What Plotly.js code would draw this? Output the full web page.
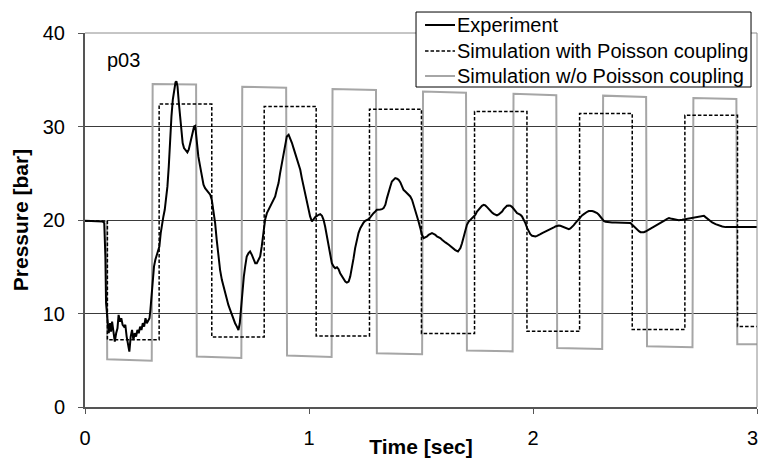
<!DOCTYPE html>
<html>
<head>
<meta charset="utf-8">
<script src="https://cdn.plot.ly/plotly-3.0.1.min.js"></script>
<style>html,body{margin:0;padding:0;background:#fff;}#chart{width:760px;height:458px;}</style>
</head>
<body>
<div id="chart"></div>
<script>
// ---- Experiment (measured pressure, bar) ----
const expT = [0, 0.079, 0.086, 0.091, 0.094, 0.100, 0.106, 0.112, 0.116, 0.121, 0.127, 0.133, 0.139, 0.145, 0.150, 0.156, 0.162, 0.168, 0.174, 0.180, 0.186, 0.192, 0.198, 0.204, 0.210, 0.216, 0.222, 0.228, 0.234, 0.240, 0.246, 0.252, 0.258, 0.264, 0.270, 0.276, 0.282, 0.288, 0.292, 0.296, 0.302, 0.308, 0.314, 0.320, 0.326, 0.332, 0.338, 0.344, 0.350, 0.356, 0.362, 0.368, 0.374, 0.380, 0.386, 0.392, 0.398, 0.404, 0.408, 0.413, 0.419, 0.425, 0.431, 0.436, 0.442, 0.451, 0.457, 0.463, 0.469, 0.475, 0.481, 0.487, 0.492,
  0.499, 0.506, 0.514, 0.521, 0.529, 0.536, 0.548, 0.559, 0.566, 0.573, 0.581, 0.588, 0.596, 0.603, 0.611, 0.618, 0.626, 0.633, 0.640, 0.648, 0.655, 0.663, 0.670, 0.678, 0.685, 0.691, 0.697, 0.703, 0.709, 0.715, 0.722, 0.730, 0.737, 0.745, 0.752, 0.760, 0.767, 0.775, 0.782, 0.789, 0.797, 0.804, 0.812, 0.819, 0.827, 0.834, 0.842, 0.849, 0.856, 0.864, 0.871, 0.879, 0.886, 0.894, 0.901, 0.909, 0.916, 0.924, 0.931, 0.938, 0.946, 0.953, 0.961, 0.968, 0.976, 0.983, 0.991, 0.998, 1.005, 1.013,
  1.020, 1.028, 1.043, 1.050, 1.058, 1.065, 1.072, 1.080, 1.087, 1.095, 1.102, 1.110, 1.117, 1.125, 1.132, 1.139, 1.147, 1.154, 1.162, 1.169, 1.177, 1.184, 1.192, 1.199, 1.206, 1.214, 1.221, 1.229, 1.236, 1.244, 1.251, 1.259, 1.266, 1.274, 1.281, 1.288, 1.296, 1.303, 1.318, 1.326, 1.333, 1.341, 1.348, 1.355, 1.363, 1.370, 1.378, 1.385, 1.393, 1.400, 1.408, 1.415, 1.422, 1.430, 1.437, 1.445, 1.452, 1.460, 1.467, 1.475, 1.482, 1.489, 1.497, 1.504, 1.512, 1.519, 1.527, 1.534, 1.542, 1.549, 1.556, 1.564, 1.571, 1.579, 1.586, 1.594, 1.601,
  1.609, 1.624, 1.638, 1.653, 1.665, 1.676, 1.683, 1.691, 1.698, 1.705, 1.713, 1.720, 1.728, 1.735, 1.743, 1.750, 1.758, 1.765, 1.772, 1.780, 1.787, 1.795, 1.802, 1.810, 1.817, 1.825, 1.832, 1.839, 1.847, 1.854, 1.862, 1.869, 1.877, 1.884, 1.892, 1.899, 1.907, 1.914, 1.921, 1.929, 1.936, 1.944, 1.951, 1.959, 1.966, 1.974, 1.981, 1.988, 1.996, 2.003, 2.011, 2.018, 2.026, 2.033, 2.041, 2.048, 2.055, 2.063, 2.070, 2.078, 2.085, 2.093, 2.100, 2.108, 2.115, 2.122, 2.130, 2.137, 2.145, 2.152, 2.160, 2.167, 2.175, 2.182, 2.189, 2.197, 2.204, 2.212, 2.219, 2.227, 2.234, 2.242, 2.249, 2.257, 2.264, 2.271,
  2.279, 2.286, 2.294, 2.301, 2.309, 2.316, 2.324, 2.338, 2.353, 2.368, 2.383, 2.398, 2.413, 2.428, 2.435, 2.443, 2.450, 2.458, 2.465, 2.473, 2.480, 2.487, 2.495, 2.502, 2.510, 2.517, 2.532, 2.547, 2.562, 2.577, 2.592, 2.599, 2.607, 2.614, 2.621, 2.636, 2.651, 2.666, 2.681, 2.696, 2.711, 2.726, 2.741, 2.755, 2.763, 2.770, 2.778, 2.785, 2.793, 2.800, 2.815, 2.830, 2.845, 2.860, 2.875, 2.890, 2.904, 2.919, 2.934, 2.949, 2.964, 2.979, 3.0];
const expP = [19.91, 19.84, 19.67, 16.09, 11.10, 8.96, 7.89, 8.96, 8.07, 9.14, 7.89, 7.0, 7.89, 8.42, 9.85, 9.14, 9.49, 8.78, 8.6, 8.78, 7.53, 6.82, 5.92, 7.53, 8.24, 7.17, 7.89, 7.53, 8.24, 7.89, 8.6, 8.24, 8.96, 8.6, 9.49, 8.96, 9.31, 9.49, 10.39, 11.81, 13.95, 15.02, 15.74, 16.27, 16.63, 17.17, 18.6, 19.67, 20.38, 21.09, 22.16, 23.59, 25.73, 28.94, 31.09, 32.87, 34.12, 34.73, 34.83, 34.3, 32.51, 30.73, 29.3, 28.23, 27.69, 27.34, 27.23, 27.52, 28.23, 28.94, 29.66, 30.01, 30.07,
  28.23, 26.8, 25.73, 24.66, 23.77, 23.41, 23.05, 22.7, 22.16, 21.09, 19.67, 17.88, 16.1, 14.67, 13.6, 12.88, 12.17, 11.46, 10.92, 10.39, 9.85, 9.31, 8.96, 8.6, 8.24, 8.96, 10.74, 12.53, 13.95, 15.02, 16.1, 16.45, 16.63, 16.27, 15.74, 15.38, 15.38, 15.74, 16.1, 17.17, 18.6, 20.02, 20.73, 21.09, 21.45, 21.81, 22.16, 22.52, 23.23, 23.95, 25.02, 26.09, 27.16, 28.23, 28.94, 29.12, 28.77, 28.23, 27.69, 27.16, 26.62, 26.09, 25.37, 24.48, 23.59, 22.7, 21.81, 21.09, 20.38, 19.84,
  20.02, 20.31, 20.56, 20.63, 20.45, 20.02, 19.31, 18.24, 17.17, 16.1, 15.38, 15.02, 14.85, 14.95, 14.74, 14.31, 13.95, 13.67, 13.42, 13.31, 13.42, 13.95, 14.85, 15.92, 16.99, 17.88, 18.6, 19.13, 19.49, 19.74, 19.91, 20.02, 20.09, 20.31, 20.56, 20.73, 20.91, 21.09, 21.13, 21.16, 21.27, 21.63, 22.34, 23.05, 23.59, 24.12, 24.37, 24.48, 24.41, 24.3, 24.02, 23.66, 23.23, 23.05, 22.88, 22.7, 22.52, 22.16, 21.63, 21.09, 20.56, 19.84, 19.13, 18.42, 18.06, 18.13, 18.24, 18.42, 18.52, 18.6, 18.52, 18.42, 18.24, 18.17, 18.06, 17.88, 17.7,
  17.6, 17.35, 17.05, 16.78, 16.63, 16.99, 17.52, 18.24, 18.95, 19.49, 19.84, 20.02, 20.2, 20.38, 20.56, 20.91, 21.16, 21.38, 21.52, 21.63, 21.56, 21.38, 21.16, 20.98, 20.81, 20.66, 20.56, 20.49, 20.59, 20.73, 20.91, 21.16, 21.38, 21.52, 21.56, 21.52, 21.38, 21.16, 20.91, 20.73, 20.66, 20.56, 20.38, 20.02, 19.67, 19.13, 18.77, 18.49, 18.31, 18.24, 18.24, 18.31, 18.38, 18.49, 18.6, 18.67, 18.77, 18.88, 18.95, 19.02, 19.1, 19.2, 19.31, 19.38, 19.42, 19.38, 19.31, 19.24, 19.13, 19.1, 19.02, 19.1, 19.24, 19.45, 19.67, 19.92, 20.13, 20.31, 20.49, 20.63, 20.77, 20.88, 20.95, 20.98, 20.95, 20.91,
  20.85, 20.75, 20.56, 20.31, 20.09, 19.91, 19.81, 19.74, 19.74, 19.74, 19.74, 19.7, 19.7, 19.74, 19.67, 19.49, 19.31, 19.13, 18.95, 18.81, 18.7, 18.67, 18.7, 18.77, 18.88, 18.95, 19.13, 19.31, 19.56, 19.77, 20.02, 20.13, 20.2, 20.16, 20.13, 20.02, 19.98, 20.02, 20.09, 20.16, 20.23, 20.31, 20.38, 20.49, 20.45, 20.31, 20.16, 20.02, 19.88, 19.74, 19.56, 19.42, 19.31, 19.24, 19.24, 19.24, 19.27, 19.31, 19.31, 19.27, 19.24, 19.24, 19.24];

// ---- Simulation with Poisson coupling (square wave vertices) ----
const withT = [0, 0.1, 0.1, 0.331, 0.331, 0.566, 0.566, 0.80, 0.80, 1.032, 1.032, 1.270, 1.270, 1.502, 1.502, 1.739, 1.739, 1.973, 1.973, 2.208, 2.208, 2.443, 2.443, 2.678, 2.678, 2.913, 2.913, 3.0];
const withP = [19.9, 19.9, 7.2, 7.2, 32.4, 32.4, 7.5, 7.5, 32.15, 32.15, 7.6, 7.6, 31.85, 31.85, 7.85, 7.85, 31.6, 31.6, 8.1, 8.1, 31.4, 31.4, 8.3, 8.3, 31.2, 31.2, 8.6, 8.6];

// ---- Simulation w/o Poisson coupling (square wave vertices) ----
const woT = [0, 0.097, 0.099, 0.298, 0.302, 0.496, 0.499, 0.698, 0.702, 0.898, 0.902, 1.101, 1.105, 1.299, 1.303, 1.505, 1.509, 1.701, 1.705, 1.909, 1.913, 2.104, 2.108, 2.309, 2.313, 2.505, 2.509, 2.712, 2.716, 2.908, 2.912, 3.0];
const woP = [19.9, 19.9, 5.1, 4.95, 34.55, 34.5, 5.4, 5.25, 34.25, 34.15, 5.5, 5.35, 34.0, 33.9, 5.75, 5.65, 33.75, 33.6, 6.05, 5.95, 33.5, 33.35, 6.3, 6.2, 33.3, 33.15, 6.5, 6.4, 33.05, 32.95, 6.7, 6.7];

const xTicks = [0, 1, 2, 3];
const yTicks = [0, 10, 20, 30, 40];
const seriesNames = ['Experiment', 'Simulation with Poisson coupling', 'Simulation w/o Poisson coupling'];

const FONT = 'Arial, "Liberation Sans", Helvetica, sans-serif';
const styles = [
  {color: '#000000', width: 2, dash: 'solid'},
  {color: '#000000', width: 1.5, dash: '3.5px,2px'},
  {color: '#a6a6a6', width: 2, dash: 'solid'}
];

const traces = [
  {x: woT, y: woP, type: 'scatter', mode: 'lines', name: seriesNames[2], showlegend: false, line: styles[2]},
  {x: withT, y: withP, type: 'scatter', mode: 'lines', name: seriesNames[1], showlegend: false, line: styles[1]},
  {x: expT, y: expP, type: 'scatter', mode: 'lines', name: seriesNames[0], showlegend: false, line: styles[0]}
];

// Legend box drawn with paper-referenced shapes + text annotations (Excel-like spacing)
const lgBox = {x0: 0.4926, x1: 0.9911, y0: 0.8556, y1: 1.0561};
const lgSample = {x0: 0.506, x1: 0.5506};
const lgTextX = 0.5506;
const lgRows = [1.0214, 0.9519, 0.8850];

const shapes = [
  {type: 'line', xref: 'paper', yref: 'paper', x0: 0, x1: 1, y0: 1, y1: 1, line: {color: '#8c8c8c', width: 1}},
  {type: 'line', xref: 'paper', yref: 'paper', x0: 1, x1: 1, y0: 0, y1: 1, line: {color: '#8c8c8c', width: 1}},
  {type: 'rect', xref: 'paper', yref: 'paper', x0: lgBox.x0, x1: lgBox.x1, y0: lgBox.y0, y1: lgBox.y1,
   fillcolor: '#ffffff', line: {color: '#000000', width: 1}}
];
const annotations = [
  {x: 0.174, y: 37.1, xref: 'x', yref: 'y', text: 'p03', showarrow: false,
   font: {family: FONT, size: 20, color: '#000'}, xanchor: 'center', yanchor: 'middle'},
  // last x tick label, kept inside the page edge
  {x: 1.0045, y: -0.083, xref: 'paper', yref: 'paper', text: String(xTicks[3]), showarrow: false,
   font: {family: FONT, size: 20, color: '#000'}, xanchor: 'right', yanchor: 'middle'}
];
seriesNames.forEach((nm, i) => {
  shapes.push({type: 'line', xref: 'paper', yref: 'paper', x0: lgSample.x0, x1: lgSample.x1,
    y0: lgRows[i], y1: lgRows[i], line: styles[i]});
  annotations.push({x: lgTextX, y: lgRows[i], xref: 'paper', yref: 'paper', text: nm, showarrow: false,
    xanchor: 'left', yanchor: 'middle', font: {family: FONT, size: 20, color: '#000'}});
});

const layout = {
  width: 760, height: 458,
  margin: {l: 85, r: 3, t: 33, b: 51},
  paper_bgcolor: '#ffffff', plot_bgcolor: '#ffffff',
  font: {family: FONT, size: 20, color: '#000'},
  showlegend: false,
  xaxis: {
    range: [0, 3], tickvals: xTicks, ticktext: xTicks.map((v, i) => i === 3 ? '' : String(v)),
    showgrid: false, zeroline: false,
    showline: true, linecolor: '#555555', linewidth: 2,
    ticks: 'outside', ticklen: 5, tickcolor: '#555555', tickwidth: 1,
    tickfont: {family: FONT, size: 20, color: '#000'},
    ticklabelstandoff: 7,
    title: {text: 'Time [sec]', font: {family: FONT, size: 21, weight: 'bold', color: '#000'}, standoff: 0}
  },
  yaxis: {
    range: [0, 40], tickvals: yTicks, ticktext: yTicks.map(String),
    showgrid: true, gridcolor: '#3a3a3a', gridwidth: 1, zeroline: false,
    showline: true, linecolor: '#555555', linewidth: 2,
    ticks: 'outside', ticklen: 5, tickcolor: '#555555', tickwidth: 1,
    tickfont: {family: FONT, size: 20, color: '#000'},
    ticklabelstandoff: 9,
    title: {text: 'Pressure [bar]', font: {family: FONT, size: 21, weight: 'bold', color: '#000'}, standoff: 8}
  },
  shapes: shapes,
  annotations: annotations
};

Plotly.newPlot('chart', traces, layout, {displayModeBar: false, staticPlot: true});
</script>
</body>
</html>
